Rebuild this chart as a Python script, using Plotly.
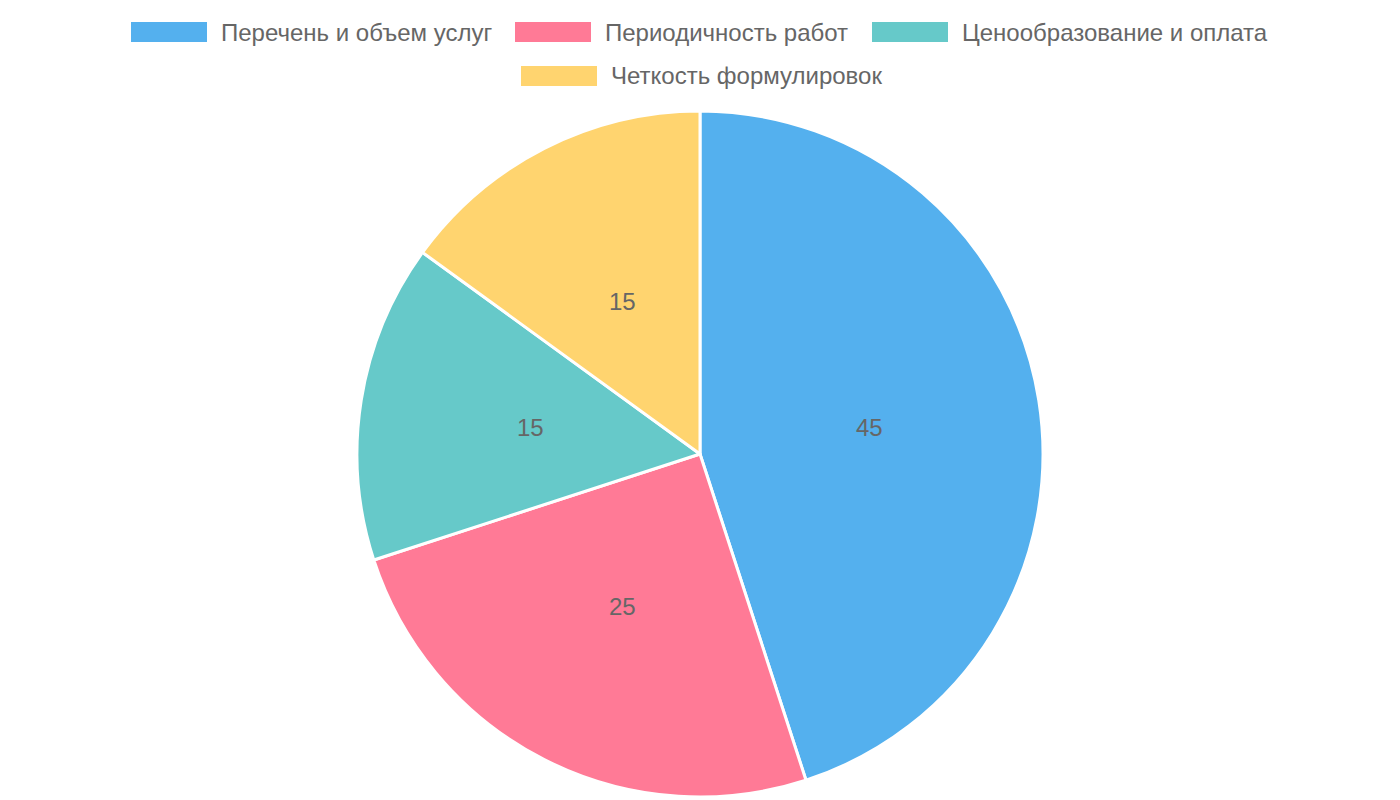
import math
import plotly.graph_objects as go

categories = ["Перечень и объем услуг", "Периодичность работ", "Ценообразование и оплата", "Четкость формулировок"]
values = [45, 25, 15, 15]
colors = ["#54B0EE", "#FF7A96", "#66C9C9", "#FFD46F"]

W, H = 1400, 800
OFF = 8  # page body margin offset
cx, cy, r = 700 - OFF, 454 - OFF, 343  # pie center / radius in px (figure coords)
FONT = "Liberation Sans, Arial, sans-serif"

fig = go.Figure(go.Pie(
    labels=categories, values=values, sort=False, direction="clockwise", rotation=0,
    marker=dict(colors=colors, line=dict(color="white", width=3)),
    textinfo="none", showlegend=False, hoverinfo="label+value",
    domain=dict(x=[(cx - r) / W, (cx + r) / W], y=[(H - cy - r) / H, (H - cy + r) / H]),
))

annotations = []
shapes = []
# value labels at half radius, computed from the data
total = sum(values)
cum = 0
for v in values:
    mid = (cum + v / 2) / total * 2 * math.pi
    cum += v
    px = cx + 0.5 * r * math.sin(mid)
    py = cy - 0.5 * r * math.cos(mid)
    annotations.append(dict(x=px / W, y=1 - py / H, xref="paper", yref="paper", text=str(v),
                            xanchor="center", yanchor="middle",
                            showarrow=False, font=dict(size=24, color="#666666", family=FONT)))

# manual legend (Chart.js style)
legend_pos = [(131, 32), (515, 32), (872, 32), (521, 76)]
for (bx, by), name, col in zip(legend_pos, categories, colors):
    bx -= OFF
    by -= OFF
    shapes.append(dict(type="rect", xref="paper", yref="paper",
                       x0=bx / W, x1=(bx + 76) / W, y0=1 - (by + 10) / H, y1=1 - (by - 10) / H,
                       fillcolor=col, line=dict(width=0)))
    annotations.append(dict(x=(bx + 88) / W, y=1 - by / H, xref="paper", yref="paper", text=name,
                            xanchor="left", yanchor="middle", showarrow=False,
                            font=dict(size=24, color="#666666", family=FONT)))

fig.update_layout(width=W, height=H, margin=dict(l=0, r=0, t=0, b=0),
                  paper_bgcolor="white", plot_bgcolor="white",
                  annotations=annotations, shapes=shapes)
fig.write_html("out.html")
